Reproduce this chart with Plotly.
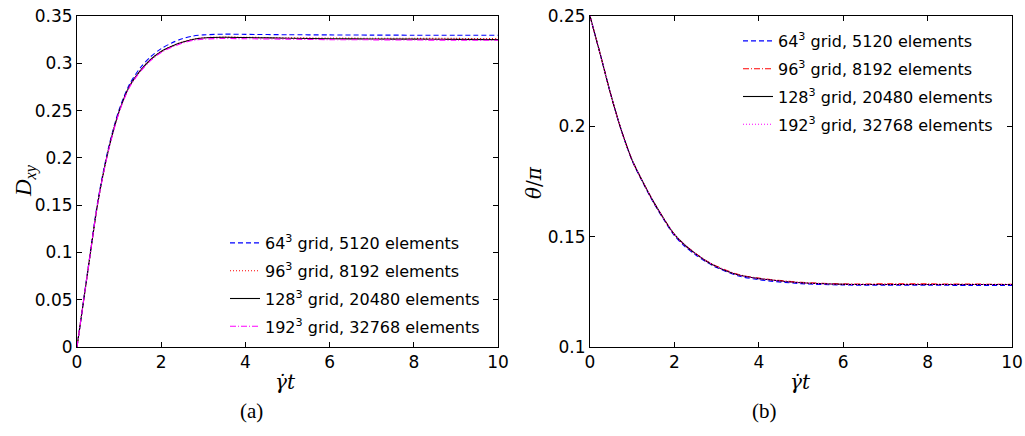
import plotly.graph_objects as go

# ---------------- data ----------------
t = [0, 0.25, 0.5, 0.75, 1.0, 1.25, 1.5, 1.75, 2.0, 2.25, 2.5, 2.75, 3.0, 3.5, 4.0, 5.0, 6.0, 7.0, 8.0, 9.0, 10.0]

dxy_64 = [0, 0.079, 0.156, 0.211, 0.251, 0.278, 0.295, 0.307, 0.3155, 0.3215, 0.3260, 0.3288, 0.3300, 0.3308, 0.3306, 0.3302, 0.3300, 0.3298, 0.3297, 0.3296, 0.3296]
dxy_96 = [0, 0.078, 0.154, 0.209, 0.249, 0.276, 0.292, 0.304, 0.3125, 0.3182, 0.3225, 0.3255, 0.3270, 0.3277, 0.3275, 0.3270, 0.3267, 0.3265, 0.3264, 0.3263, 0.3262]
dxy_128 = [0, 0.078, 0.154, 0.209, 0.249, 0.276, 0.292, 0.304, 0.3125, 0.3180, 0.3222, 0.3252, 0.3268, 0.3275, 0.3272, 0.3265, 0.3260, 0.3257, 0.3255, 0.3253, 0.3250]
dxy_192 = [0, 0.078, 0.154, 0.208, 0.248, 0.275, 0.291, 0.303, 0.3115, 0.3170, 0.3212, 0.3242, 0.3256, 0.3262, 0.3260, 0.3255, 0.3250, 0.3248, 0.3246, 0.3244, 0.3243]

th_64 = [0.25, 0.2322, 0.2139, 0.1977, 0.1844, 0.1746, 0.1656, 0.1577, 0.1505, 0.1455, 0.1418, 0.1386, 0.1360, 0.1323, 0.1305, 0.1287, 0.1281, 0.1280, 0.1280, 0.1279, 0.1279]
th_96 = [0.25, 0.2322, 0.2139, 0.1978, 0.1846, 0.1749, 0.1660, 0.1581, 0.1510, 0.1462, 0.1424, 0.1391, 0.1366, 0.1329, 0.1312, 0.1293, 0.1286, 0.1286, 0.1286, 0.1285, 0.1284]
th_128 = [0.25, 0.2322, 0.2139, 0.1978, 0.1846, 0.1749, 0.1660, 0.1581, 0.1510, 0.1461, 0.1423, 0.1390, 0.1364, 0.1327, 0.1310, 0.1291, 0.1284, 0.1283, 0.1283, 0.1283, 0.1283]
th_192 = [0.25, 0.2322, 0.2139, 0.1978, 0.1846, 0.1749, 0.1660, 0.1581, 0.1510, 0.1461, 0.1423, 0.1390, 0.1364, 0.1327, 0.1310, 0.1291, 0.1284, 0.1283, 0.1283, 0.1283, 0.1283]

names = ["64<sup>3</sup> grid, 5120 elements", "96<sup>3</sup> grid, 8192 elements",
         "128<sup>3</sup> grid, 20480 elements", "192<sup>3</sup> grid, 32768 elements"]

xticks = [0, 2, 4, 6, 8, 10]
yticks_a = [0, 0.05, 0.1, 0.15, 0.2, 0.25, 0.3, 0.35]
yticks_a_text = ["0", "0.05", "0.1", "0.15", "0.2", "0.25", "0.3", "0.35"]
yticks_b = [0.1, 0.15, 0.2, 0.25]
yticks_b_text = ["0.1", "0.15", "0.2", "0.25"]

# ---------------- figure ----------------
W, H = 1025, 436
MT, MB = 16, 436 - 347
fig = go.Figure()

styles_a = [("#0000ff", "5px,3px"), ("#ff0000", "1px,2px"), ("#000000", "solid"), ("#ff00ff", "6px,2px,1px,2px")]
styles_b = [("#0000ff", "5px,3px"), ("#ff0000", "6px,2px,1px,2px"), ("#000000", "solid"), ("#ff00ff", "1px,2px")]

for i, ys in enumerate([dxy_64, dxy_96, dxy_128, dxy_192]):
    c, d = styles_a[i]
    fig.add_trace(go.Scatter(x=t, y=ys, mode="lines", name=names[i], legendgroup="a%d" % i,
                             line=dict(color=c, dash=d, width=1.1, shape="spline", smoothing=0.8),
                             xaxis="x", yaxis="y", legend="legend"))
for i, ys in enumerate([th_64, th_96, th_128, th_192]):
    c, d = styles_b[i]
    fig.add_trace(go.Scatter(x=t, y=ys, mode="lines", name=names[i], legendgroup="b%d" % i,
                             line=dict(color=c, dash=d, width=1.1, shape="spline", smoothing=0.8),
                             xaxis="x2", yaxis="y2", legend="legend2"))

tickfont = dict(family="DejaVu Sans", size=17, color="black")
axcommon = dict(showline=True, linecolor="black", linewidth=1, mirror="ticks", ticks="inside",
                ticklen=5, tickcolor="black", showgrid=False, zeroline=False, tickfont=tickfont,
                automargin=False)


def px_x(p):
    return p / W


def py(p):
    return (347 - p) / 331


legfont = dict(family="DejaVu Sans", size=16, color="black")
fig.update_layout(
    width=W, height=H, margin=dict(l=0, r=0, t=MT, b=MB, autoexpand=False),
    paper_bgcolor="white", plot_bgcolor="white",
    xaxis=dict(domain=[px_x(77), px_x(498)], range=[0, 10], tickvals=xticks, anchor="y", **axcommon),
    yaxis=dict(domain=[0, 1], range=[0, 0.35], tickvals=yticks_a, ticktext=yticks_a_text, anchor="x", **axcommon),
    xaxis2=dict(domain=[px_x(590), px_x(1012)], range=[0, 10], tickvals=xticks, anchor="y2", **axcommon),
    yaxis2=dict(domain=[0, 1], range=[0.1, 0.25], tickvals=yticks_b, ticktext=yticks_b_text, anchor="x2", **axcommon),
    legend=dict(x=px_x(225), y=py(344), xanchor="left", yanchor="bottom",
                bgcolor="rgba(0,0,0,0)", font=legfont, tracegroupgap=4, traceorder="grouped"),
    legend2=dict(x=px_x(738), y=py(24), xanchor="left", yanchor="top",
                 bgcolor="rgba(0,0,0,0)", font=legfont, tracegroupgap=4, traceorder="grouped"),
    showlegend=True,
)

serif = dict(family="Liberation Serif", size=23, color="black")

annots = [
    dict(text="<i>γ̇t</i>", x=px_x(285), y=py(382), font=dict(family="DejaVu Serif", size=20, color="black")),
    dict(text="<i>γ̇t</i>", x=px_x(800), y=py(382), font=dict(family="DejaVu Serif", size=20, color="black")),
    dict(text="(a)", x=px_x(251), y=py(411), font=dict(family="Liberation Serif", size=21, color="black")),
    dict(text="(b)", x=px_x(764), y=py(411), font=dict(family="Liberation Serif", size=21, color="black")),
    dict(text="<i>D</i><sub><i>xy</i></sub>", x=px_x(25), y=py(181), textangle=-90),
    dict(text="<i>θ</i>/<i>π</i>", x=px_x(534), y=py(183), textangle=-90, font=dict(family="DejaVu Serif", size=20, color="black")),
]
for a in annots:
    base = dict(xref="paper", yref="paper", showarrow=False, xanchor="center", yanchor="middle", font=serif)
    base.update(a)
    fig.add_annotation(**base)

fig.write_html("out.html", config={"displayModeBar": False},
               post_script="document.body.style.margin='0px';")
